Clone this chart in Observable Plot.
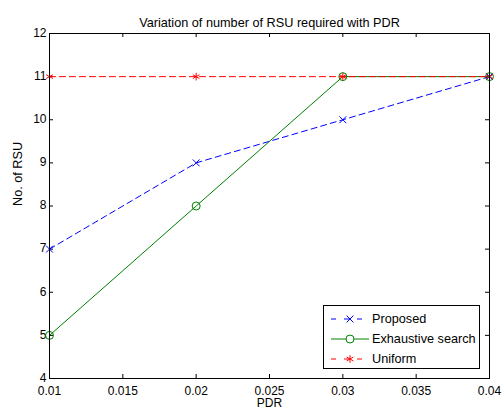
<!DOCTYPE html>
<html>
<head>
<meta charset="utf-8">
<script src="https://cdn.jsdelivr.net/npm/d3@7"></script>
<script src="https://cdn.jsdelivr.net/npm/@observablehq/plot@0.6"></script>
<style>
  html, body { margin: 0; padding: 0; background: #fff; }
  #chart { position: relative; width: 502px; height: 410px; font-family: "Liberation Sans", Arial, sans-serif; }
  #legend { position: absolute; left: 323px; top: 305px; width: 157px; height: 64px; background: #fff; border: 1px solid #000; box-sizing: border-box; }
  .entry { position: absolute; left: 0; height: 20px; display: flex; align-items: center; font-size: 12.7px; color: #000; }
  .entry svg { display: block; }
</style>
</head>
<body>
<div id="chart"></div>
<script>
// PDR values on the x axis
const pdr = [0.01, 0.02, 0.03, 0.04];
// Number of RSUs required per method
const proposed = [7, 9, 10, 11];
const exhaustive = [5, 8, 11, 11];
const uniform = [11, 11, 11, 11];

const seriesNames = ["Proposed", "Exhaustive search", "Uniform"];
const xTicks = [0.01, 0.015, 0.02, 0.025, 0.03, 0.035, 0.04];
const yTicks = [4, 5, 6, 7, 8, 9, 10, 11, 12];

const styles = {
  "Proposed": {color: "#0000ff", dash: "6,4", symbol: "times", r: 3.2, width: 1},
  "Exhaustive search": {color: "#008000", dash: null, symbol: "circle", r: 4, width: 1},
  "Uniform": {color: "#ff0000", dash: "6,4", symbol: "asterisk", r: 3.6, width: 1}
};

const values = [proposed, exhaustive, uniform];
const rows = seriesNames.map((name, i) => pdr.map((x, j) => ({series: name, x, y: values[i][j]})));

const W = 502, H = 410;
const mL = 49, mR = 13, mT = 33, mB = 32;
const frameH = H - mT - mB, frameW = W - mL - mR;
const tickLen = 4;

const marks = [];
// inward ticks on all four sides
marks.push(Plot.tickX(xTicks, {x: d => d, insetTop: frameH - tickLen, stroke: "#000"}));
marks.push(Plot.tickX(xTicks, {x: d => d, insetBottom: frameH - tickLen, stroke: "#000"}));
marks.push(Plot.tickY(yTicks, {y: d => d, insetRight: frameW - tickLen, stroke: "#000"}));
marks.push(Plot.tickY(yTicks, {y: d => d, insetLeft: frameW - tickLen, stroke: "#000"}));
// tick labels
marks.push(Plot.axisX(xTicks, {tickSize: 0, tickPadding: 7.5, fontSize: 12, label: null, tickFormat: d => String(+d.toFixed(3))}));
marks.push(Plot.axisY(yTicks, {tickSize: 0, tickPadding: 3, fontSize: 12, dy: -0.5, label: null}));

rows.forEach((data, i) => {
  const s = styles[seriesNames[i]];
  marks.push(Plot.line(data, {x: "x", y: "y", stroke: s.color, strokeWidth: s.width, strokeDasharray: s.dash, curve: "linear"}));
  marks.push(Plot.dot(data, {x: "x", y: "y", stroke: s.color, strokeWidth: 1, symbol: s.symbol, r: s.r, fill: "none"}));
});

marks.push(Plot.frame({stroke: "#000", strokeWidth: 1}));
// title and axis labels
marks.push(Plot.text(["Variation of number of RSU required with PDR"], {frameAnchor: "top", dy: -16, fontSize: 12.7, fill: "#000"}));
marks.push(Plot.text(["PDR"], {frameAnchor: "bottom", dy: 28.5, fontSize: 12, fill: "#000"}));
marks.push(Plot.text(["No. of RSU"], {frameAnchor: "left", dx: -32, rotate: -90, fontSize: 12.7, fill: "#000"}));

const plot = Plot.plot({
  width: W, height: H,
  marginLeft: mL, marginRight: mR, marginTop: mT, marginBottom: mB,
  style: {fontFamily: "'Liberation Sans', Arial, sans-serif", fontSize: "12px", color: "#000", background: "#fff", overflow: "visible"},
  x: {domain: [0.01, 0.04], axis: null},
  y: {domain: [4, 12], axis: null},
  marks
});

const chart = document.getElementById("chart");
chart.appendChild(plot);

// legend box
const legend = document.createElement("div");
legend.id = "legend";
seriesNames.forEach((name, i) => {
  const s = styles[name];
  const e = document.createElement("div");
  e.className = "entry";
  e.style.top = (3 + i * 20) + "px";
  const ns = "http://www.w3.org/2000/svg";
  const svg = document.createElementNS(ns, "svg");
  svg.setAttribute("width", 48); svg.setAttribute("height", 20);
  const ln = document.createElementNS(ns, "line");
  ln.setAttribute("x1", 7); ln.setAttribute("x2", 45); ln.setAttribute("y1", 10); ln.setAttribute("y2", 10);
  ln.setAttribute("stroke", s.color); ln.setAttribute("stroke-width", 1);
  if (s.dash) ln.setAttribute("stroke-dasharray", "5,8");
  svg.appendChild(ln);
  const p = document.createElementNS(ns, "path");
  const sym = s.symbol === "times" ? d3.symbolTimes : s.symbol === "circle" ? d3.symbolCircle : d3.symbolAsterisk;
  p.setAttribute("d", d3.symbol(sym, Math.PI * s.r * s.r)());
  p.setAttribute("transform", "translate(26,10)");
  p.setAttribute("fill", s.symbol === "circle" ? "#fff" : "none");
  p.setAttribute("stroke", s.color);
  svg.appendChild(p);
  e.appendChild(svg);
  const t = document.createElement("span");
  t.textContent = name;
  e.appendChild(t);
  legend.appendChild(e);
});
chart.appendChild(legend);
</script>
</body>
</html>
